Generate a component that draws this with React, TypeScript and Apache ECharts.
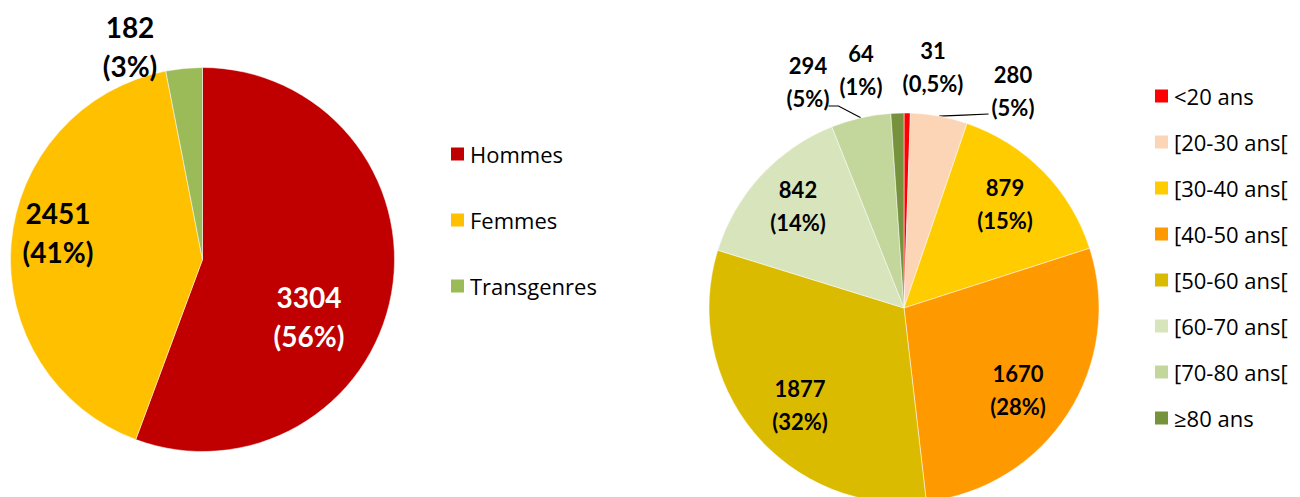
import React, { useEffect, useRef } from "react";
import * as echarts from "echarts";

// ---- data ----
const genderNames = ["Hommes", "Femmes", "Transgenres"];
const genderValues = [3304, 2451, 182];
const genderColors = ["#C00000", "#FFC000", "#9BBB59"];

const ageNames = [
  "<20 ans",
  "[20-30 ans[",
  "[30-40 ans[",
  "[40-50 ans[",
  "[50-60 ans[",
  "[60-70 ans[",
  "[70-80 ans[",
  "≥80 ans",
];
const ageValues = [31, 280, 879, 1670, 1877, 842, 294, 64];
const ageColors = [
  "#FF0000",
  "#FBD5B5",
  "#FFCC00",
  "#FF9900",
  "#DBBB00",
  "#D8E4BC",
  "#C3D69B",
  "#76923C",
];

// ---- label layout (anchor points of the label blocks) ----
const genderLabelPos = [
  [309, 316],
  [58, 232],
  [130, 46],
];
const genderLabelColor = ["#FFFFFF", "#000000", "#000000"];
const ageLabelPos = [
  [933, 67],
  [1013, 91],
  [1005, 204],
  [1018, 390],
  [800, 405],
  [798, 206],
  [808, 82],
  [861, 70],
];
// leader line: side of the label it attaches to (0 = none, 1 = left side, -1 = right side)
const ageLeader = [0, 1, 0, 0, 0, 0, -1, 0];

const LABEL_FONT = "Lato, 'Noto Sans', sans-serif";
const LEGEND_FONT = "'Open Sans', 'Noto Sans', sans-serif";

const AGE_CENTER = [904, 308];
const AGE_RADIUS = 195;

function pctText(v: number, total: number): string {
  const p = (v / total) * 100;
  if (p < 1) return p.toFixed(1).replace(".", ",") + "%";
  return Math.round(p) + "%";
}

export default function App() {
  const ref = useRef<HTMLDivElement>(null);

  useEffect(() => {
    if (!ref.current) return;
    const chart = echarts.init(ref.current, undefined, { renderer: "svg" });
    const gTotal = genderValues.reduce((a, b) => a + b, 0);
    const aTotal = ageValues.reduce((a, b) => a + b, 0);

    // edge point of a slice at its mid angle (fallback when the library gives none)
    const edgePoint = (idx: number) => {
      let before = 0;
      for (let i = 0; i < idx; i++) before += ageValues[i];
      const mid = ((before + ageValues[idx] / 2) / aTotal) * Math.PI * 2;
      return [
        AGE_CENTER[0] + AGE_RADIUS * Math.sin(mid),
        AGE_CENTER[1] - AGE_RADIUS * Math.cos(mid),
      ];
    };

    const legendCommon = {
      orient: "vertical",
      itemWidth: 15,
      itemHeight: 15,
      padding: 0,
      icon: "rect",
      selectedMode: false,
      textStyle: {
        fontFamily: LEGEND_FONT,
        fontSize: 22,
        color: "#000",
        lineHeight: 22,
      },
    };

    const option: any = {
      animation: false,
      backgroundColor: "#FFFFFF",
      legend: [
        { ...legendCommon, left: 449, top: 143, itemGap: 44, data: genderNames },
        { ...legendCommon, left: 1153, top: 85, itemGap: 24, data: ageNames },
      ],
      series: [
        {
          type: "pie",
          center: [202.5, 259.5],
          radius: 192,
          startAngle: 90,
          clockwise: true,
          avoidLabelOverlap: false,
          itemStyle: { borderColor: "#FFFFFF", borderWidth: 0.5 },
          label: {
            show: true,
            position: "inside",
            fontFamily: LABEL_FONT,
            fontWeight: "bold",
            fontSize: 28,
            lineHeight: 39,
            align: "center",
            formatter: (p: any) => `${p.value}\n(${pctText(p.value, gTotal)})`,
          },
          labelLine: { show: false },
          labelLayout: (p: any) => ({
            x: genderLabelPos[p.dataIndex][0],
            y: genderLabelPos[p.dataIndex][1],
            align: "center",
            verticalAlign: "middle",
          }),
          data: genderNames.map((n, i) => ({
            name: n,
            value: genderValues[i],
            itemStyle: { color: genderColors[i] },
            label: { color: genderLabelColor[i] },
          })),
        },
        {
          type: "pie",
          center: AGE_CENTER,
          radius: AGE_RADIUS,
          startAngle: 90,
          clockwise: true,
          avoidLabelOverlap: false,
          itemStyle: { borderColor: "#FFFFFF", borderWidth: 0.5 },
          label: {
            show: true,
            position: "outside",
            fontFamily: LABEL_FONT,
            fontWeight: "bold",
            fontSize: 22,
            lineHeight: 33,
            color: "#000",
            align: "center",
            formatter: (p: any) => `${p.value}\n(${pctText(p.value, aTotal)})`,
          },
          labelLine: {
            show: false,
            length: 10,
            length2: 10,
            lineStyle: { color: "#000", width: 1.2 },
          },
          labelLayout: (p: any) => {
            const i = p.dataIndex;
            const [x, y] = ageLabelPos[i];
            const out: any = { x, y, align: "center", verticalAlign: "middle" };
            const side = ageLeader[i];
            if (side !== 0) {
              const start =
                p.labelLinePoints && p.labelLinePoints[0]
                  ? p.labelLinePoints[0]
                  : edgePoint(i);
              const halfW = p.labelRect ? p.labelRect.width / 2 : 25;
              if (side === 1) {
                const end = [x - halfW - 3, y + 23];
                out.labelLinePoints = [start, [(start[0] + end[0]) / 2, (start[1] + end[1]) / 2], end];
              } else {
                const end = [x + halfW - 1, y + 24];
                const mid = [end[0] + 10, end[1]];
                out.labelLinePoints = [start, mid, end];
              }
            }
            return out;
          },
          data: ageNames.map((n, i) => ({
            name: n,
            value: ageValues[i],
            itemStyle: { color: ageColors[i] },
            labelLine: { show: ageLeader[i] !== 0 },
          })),
        },
      ],
    };
    chart.setOption(option);
    return () => chart.dispose();
  }, []);

  return (
    <div
      ref={ref}
      style={{ position: "fixed", left: 0, top: 0, width: 1300, height: 497 }}
    />
  );
}
